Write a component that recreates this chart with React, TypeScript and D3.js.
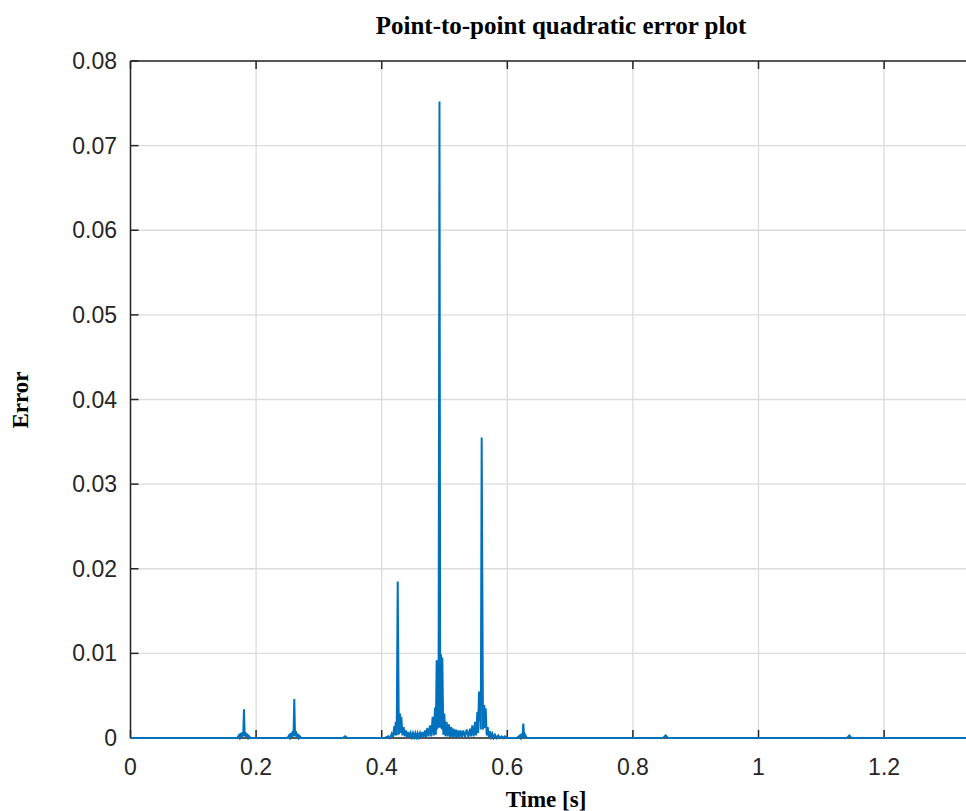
import React from "react";
import * as d3 from "d3";

// Time [s] of samples (peaks and troughs)
const timeS: number[] = [
  0, 0.170, 0.1725, 0.174, 0.1755, 0.177, 0.1785, 0.1795, 0.1807, 0.1818, 0.183, 0.1845, 0.186, 0.1875, 0.189, 0.191,
  0.2499, 0.2524, 0.2539, 0.2554, 0.2569, 0.2584, 0.2596, 0.2608, 0.262, 0.2634, 0.2649, 0.2664, 0.2679, 0.2694, 0.2719,
  0.338, 0.3418, 0.345,
  0.405, 0.4105, 0.4132, 0.4159, 0.418, 0.4201, 0.4212, 0.4223, 0.4239, 0.4255, 0.4273, 0.4291, 0.4301, 0.4312, 0.4331, 0.4350,
  0.4368, 0.4387, 0.4405, 0.4424, 0.4442, 0.4461, 0.4480, 0.4498, 0.4517, 0.4535, 0.4554, 0.4572, 0.4591, 0.4610, 0.4628,
  0.4647, 0.4668, 0.4689, 0.4707, 0.4726, 0.4747, 0.4769, 0.4790, 0.4811, 0.4830, 0.4849, 0.4862, 0.4875, 0.4883, 0.4891,
  0.4905, 0.4920, 0.4932, 0.4944, 0.4955, 0.4965, 0.4981, 0.4997, 0.5015, 0.5034, 0.5052, 0.5071, 0.5090, 0.5108, 0.5127,
  0.5145, 0.5164, 0.5183, 0.5201, 0.5220, 0.5238, 0.5257, 0.5278, 0.5300, 0.5326, 0.5353, 0.5380, 0.5406, 0.5424, 0.5443,
  0.5465, 0.5486, 0.5504, 0.5523, 0.5536, 0.5549, 0.5557, 0.5565, 0.5578, 0.5592, 0.5613, 0.5634, 0.5645, 0.5656, 0.5672,
  0.5688, 0.5706, 0.5725, 0.5743, 0.5761, 0.5782, 0.5804, 0.5830, 0.5857, 0.5884, 0.5911, 0.5937, 0.5963, 0.600,
  0.615, 0.6202, 0.6215, 0.6229, 0.6242, 0.6255, 0.6268, 0.6282, 0.631,
  0.848, 0.8522, 0.856,
  1.141, 1.1446, 1.148, 1.37,
];

// Point-to-point quadratic error at those samples
const errorV: number[] = [
  0, 0, 0.0003, 0, 0.0006, 0.0001, 0.0007, 0.0002, 0.0034, 0.0002, 0.0007, 0.0001, 0.0005, 0, 0.0002, 0,
  0, 0.0003, 0, 0.0006, 0.0001, 0.0008, 0.0002, 0.0046, 0.0002, 0.0008, 0.0001, 0.0005, 0, 0.0002, 0,
  0, 0.0002, 0,
  0, 0.0002, 0, 0.0005, 0.0001, 0.0014, 0.0003, 0.0019, 0.0003, 0.0185, 0.0004, 0.0029, 0.0006, 0.0025, 0.0003, 0.0013,
  0.0002, 0.0009, 0.0001, 0.0007, 0.0001, 0.0006, 0.0001, 0.0006, 0.0001, 0.0006, 0.0001, 0.0006, 0.0001, 0.0006, 0.0001,
  0.0007, 0.0001, 0.0009, 0.0001, 0.0012, 0.0002, 0.0015, 0.0002, 0.0025, 0.0003, 0.0036, 0.0004, 0.0092, 0.0010, 0.0088,
  0.0012, 0.0752, 0.0012, 0.0099, 0.0010, 0.0095, 0.0004, 0.0029, 0.0002, 0.0019, 0.0002, 0.0016, 0.0001, 0.0013, 0.0001,
  0.0011, 0.0001, 0.0010, 0.0001, 0.0009, 0.0001, 0.0009, 0.0001, 0.0009, 0.0001, 0.0010, 0.0001, 0.0011, 0.0002, 0.0015,
  0.0002, 0.0019, 0.0003, 0.0031, 0.0006, 0.0055, 0.0020, 0.0050, 0.0010, 0.0355, 0.0010, 0.0039, 0.0012, 0.0035, 0.0003,
  0.0013, 0.0001, 0.0008, 0.0001, 0.0005, 0, 0.0004, 0, 0.0003, 0, 0.0002, 0, 0.0002, 0,
  0, 0.0003, 0, 0.0005, 0.0001, 0.0017, 0.0001, 0.0004, 0,
  0, 0.0003, 0,
  0, 0.0003, 0, 0,
];

const xTicks: number[] = [0, 0.2, 0.4, 0.6, 0.8, 1, 1.2];
const yTicks: number[] = [0, 0.01, 0.02, 0.03, 0.04, 0.05, 0.06, 0.07, 0.08];
const xTickLabels: string[] = ["0", "0.2", "0.4", "0.6", "0.8", "1", "1.2"];
const yTickLabels: string[] = ["0", "0.01", "0.02", "0.03", "0.04", "0.05", "0.06", "0.07", "0.08"];

const W = 966;
const H = 811;
const left = 130.5;
const top = 61;
const bottom = 738;
const xMax = 1.37;
const pxPerUnit = 628;
const right = left + xMax * pxPerUnit;

export default function App() {
  const x = d3.scaleLinear().domain([0, xMax]).range([left, right]);
  const y = d3.scaleLinear().domain([0, 0.08]).range([bottom, top]);
  const pts = timeS.map((t, i) => [t, errorV[i]] as [number, number]);
  const line = d3
    .line<[number, number]>()
    .x((d) => x(d[0]))
    .y((d) => y(d[1]));
  const axisColor = "#262626";
  const gridColor = "#dcdcdc";
  const tickLen = 8;
  const tickFont = "'Liberation Sans', Arial, sans-serif";
  const serif = "'Liberation Serif', 'Times New Roman', serif";

  return (
    <svg
      width={W}
      height={H}
      style={{ position: "absolute", left: 0, top: 0, background: "#fff" }}
    >
      <defs>
        <clipPath id="plotclip">
          <rect x={left} y={top - 2} width={right - left} height={bottom - top + 4} />
        </clipPath>
      </defs>
      <rect x={0} y={0} width={W} height={H} fill="#fff" />
      {/* grid */}
      {xTicks.map((t) => (
        <line key={"gx" + t} x1={x(t)} x2={x(t)} y1={top} y2={bottom} stroke={gridColor} strokeWidth={1.3} />
      ))}
      {yTicks.map((t) => (
        <line key={"gy" + t} x1={left} x2={right} y1={y(t)} y2={y(t)} stroke={gridColor} strokeWidth={1.3} />
      ))}
      {/* axes box */}
      <line x1={left} x2={right} y1={top} y2={top} stroke={axisColor} strokeWidth={1.5} />
      <line x1={left} x2={right} y1={bottom} y2={bottom} stroke={axisColor} strokeWidth={1.5} />
      <line x1={left} x2={left} y1={top} y2={bottom} stroke={axisColor} strokeWidth={1.5} />
      <line x1={right} x2={right} y1={top} y2={bottom} stroke={axisColor} strokeWidth={1.5} />
      {/* ticks */}
      {xTicks.map((t) => (
        <g key={"tx" + t}>
          <line x1={x(t)} x2={x(t)} y1={bottom} y2={bottom - tickLen} stroke={axisColor} strokeWidth={1.5} />
          <line x1={x(t)} x2={x(t)} y1={top} y2={top + tickLen} stroke={axisColor} strokeWidth={1.5} />
        </g>
      ))}
      {yTicks.map((t) => (
        <g key={"ty" + t}>
          <line x1={left} x2={left + tickLen} y1={y(t)} y2={y(t)} stroke={axisColor} strokeWidth={1.5} />
          <line x1={right} x2={right - tickLen} y1={y(t)} y2={y(t)} stroke={axisColor} strokeWidth={1.5} />
        </g>
      ))}
      {/* data */}
      <path
        d={line(pts) || ""}
        fill="none"
        stroke="#0072BD"
        strokeWidth={2}
        strokeLinejoin="miter"
        clipPath="url(#plotclip)"
      />
      {/* tick labels */}
      {xTicks.map((t, i) => (
        <text
          key={"lx" + t}
          x={x(t)}
          y={775}
          textAnchor="middle"
          fontFamily={tickFont}
          fontSize={23}
          fill={axisColor}
        >
          {xTickLabels[i]}
        </text>
      ))}
      {yTicks.map((t, i) => (
        <text
          key={"ly" + t}
          x={117}
          y={y(t)}
          dy="0.35em"
          textAnchor="end"
          fontFamily={tickFont}
          fontSize={23}
          fill={axisColor}
        >
          {yTickLabels[i]}
        </text>
      ))}
      {/* title and labels */}
      <text x={561} y={34} textAnchor="middle" fontFamily={serif} fontWeight="bold" fontSize={25} fill="#000">
        Point-to-point quadratic error plot
      </text>
      <text x={546} y={807} textAnchor="middle" fontFamily={serif} fontWeight="bold" fontSize={23} fill="#000">
        Time [s]
      </text>
      <text
        transform="translate(28,400) rotate(-90)"
        textAnchor="middle"
        fontFamily={serif}
        fontWeight="bold"
        fontSize={23}
        fill="#000"
      >
        Error
      </text>
    </svg>
  );
}
